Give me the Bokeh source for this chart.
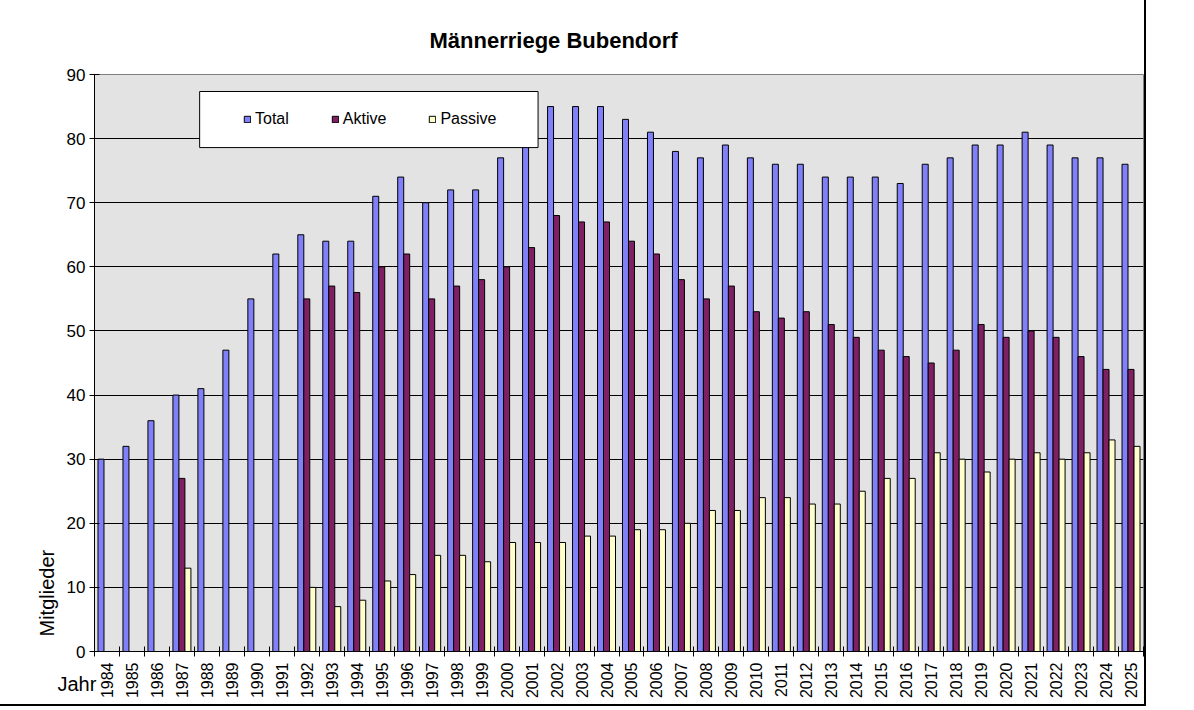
import math
from bokeh.plotting import figure
from bokeh.models import (Range1d, FixedTicker, Legend, LegendItem, BoxAnnotation,
                          ColumnDataSource, Title)
from bokeh.transform import dodge
from bokeh.embed import file_html
from bokeh.resources import INLINE

# ---------------- data ----------------
years = list(range(1984, 2026))
total = [30, 32, 36, 40, 41, 47, 55, 62,
         65, 64, 64, 71, 74, 70, 72, 72, 77, 80,
         85, 85, 85, 83, 81, 78, 77, 79, 77, 76, 76, 74,
         74, 74, 73, 76, 77, 79, 79, 81, 79, 77, 77, 76]
aktive = [None, None, None, 27, None, None, None, None,
          55, 57, 56, 60, 62, 55, 57, 58, 60, 63,
          68, 67, 67, 64, 62, 58, 55, 57, 53, 52, 53, 51,
          49, 47, 46, 45, 47, 51, 49, 50, 49, 46, 44, 44]
passive = [None, None, None, 13, None, None, None, None,
           10, 7, 8, 11, 12, 15, 15, 14, 17, 17,
           17, 18, 18, 19, 19, 20, 22, 22, 24, 24, 23, 23,
           25, 27, 27, 31, 30, 28, 30, 31, 30, 31, 33, 32]
y_ticks = [0, 10, 20, 30, 40, 50, 60, 70, 80, 90]
series_names = ["Total", "Aktive", "Passive"]
series_colors = ["#8080F8", "#7E2063", "#FFFFCC"]

FONT = "Liberation Sans"


def src(vals):
    xs = [y for y, v in zip(years, vals) if v is not None]
    vs = [v for v in vals if v is not None]
    return ColumnDataSource(dict(year=xs, val=vs))


p = figure(width=1146, height=706, output_backend="svg", toolbar_location=None,
           x_range=Range1d(years[0] - 0.5, years[-1] + 0.5),
           y_range=Range1d(0, 90),
           min_border_left=94, min_border_right=3, min_border_top=74,
           min_border_bottom=55)
p.styles = {"border-right": "2px solid black", "border-bottom": "2px solid black"}
p.background_fill_color = "#E3E3E3"
p.border_fill_color = "white"
p.outline_line_color = "#808080"
p.outline_line_width = 1

# title
p.title.text = "Männerriege Bubendorf"
p.title.align = "left"
p.title.offset = 335
p.title.text_font = FONT
p.title.text_font_style = "bold"
p.title.text_font_size = "22px"
p.title.text_color = "black"
p.title.standoff = 44

bw = 0.24
renderers = []
for vals, off, col in zip([total, aktive, passive], [-bw, 0, bw], series_colors):
    r = p.vbar(x=dodge("year", off, range=p.x_range), top="val", width=bw, bottom=0,
               source=src(vals), fill_color=col, line_color="black", line_width=1)
    renderers.append(r)

# grid
p.xgrid.visible = False
p.ygrid.ticker = FixedTicker(ticks=y_ticks[1:-1])
p.ygrid.grid_line_color = "black"
p.ygrid.grid_line_width = 1

# y axis
ya = p.yaxis[0]
ya.ticker = FixedTicker(ticks=y_ticks, minor_ticks=[])
ya.axis_line_color = "black"
ya.major_tick_in = 5
ya.major_tick_out = 5
ya.major_tick_line_color = "black"
ya.major_label_text_font = FONT
ya.major_label_text_font_size = "17px"
ya.major_label_text_color = "black"
ya.major_label_standoff = 4

# x axis
xa = p.xaxis[0]
xa.ticker = FixedTicker(ticks=years, minor_ticks=[y - 0.5 for y in years] + [years[-1] + 0.5])
xa.axis_line_color = "black"
xa.major_tick_in = 0
xa.major_tick_out = 0
xa.minor_tick_in = 5
xa.minor_tick_out = 5
xa.minor_tick_line_color = "black"
xa.major_label_orientation = math.pi / 2
xa.major_label_text_font = FONT
xa.major_label_text_font_size = "16px"
xa.major_label_text_color = "black"
xa.major_label_standoff = 6
xa.major_label_overrides = {y: str(y) for y in years}

# y axis title as a side title
p.add_layout(Title(text="Mitglieder", align="left", offset=15, standoff=11,
                   text_font=FONT, text_font_size="20px", text_font_style="normal",
                   text_color="black"), "left")

# x axis title "Jahr", left of the year labels
p.add_layout(Title(text="Jahr", align="left", offset=-37, standoff=-58,
                   vertical_align="top",
                   text_font=FONT, text_font_size="20px", text_font_style="normal",
                   text_color="black"), "below")

# legend box
box = BoxAnnotation(left=1987.71, right=2001.26, bottom=78.6, top=87.35,
                    fill_color="white", fill_alpha=1.0, line_color="black",
                    line_width=1, line_alpha=1.0)
p.add_layout(box)

legend = Legend(items=[LegendItem(label=n, renderers=[r]) for n, r in zip(series_names, renderers)],
                orientation="horizontal", location=(149, 523), padding=0, spacing=42,
                margin=0, glyph_width=8, glyph_height=8, label_standoff=4,
                border_line_alpha=0, background_fill_alpha=0,
                label_text_font=FONT, label_text_font_size="16px", label_text_color="black")
p.add_layout(legend, "center")

open("out.html", "w").write(file_html(p, INLINE))
